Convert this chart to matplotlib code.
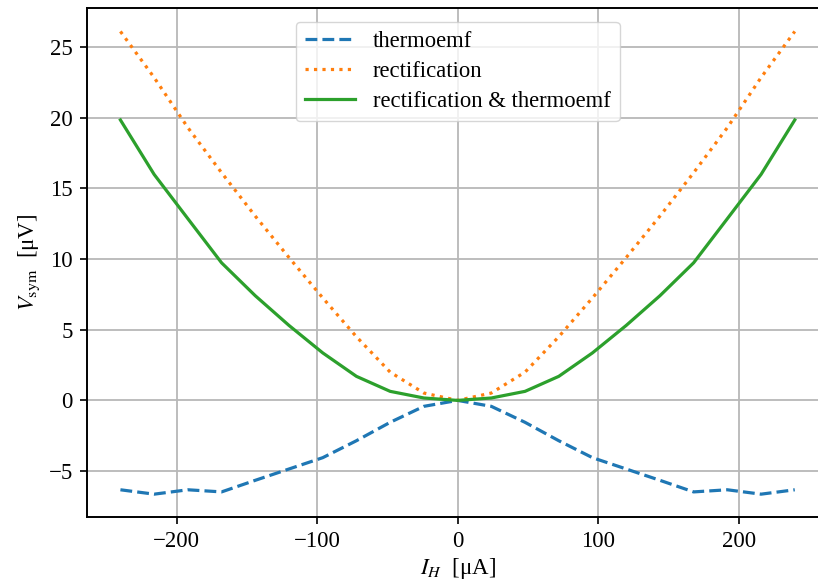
import matplotlib
matplotlib.use("Agg")
import matplotlib.pyplot as plt

plt.rcParams['font.family'] = ['Liberation Serif', 'DejaVu Serif']
plt.rcParams['mathtext.fontset'] = 'stix'

current = [-240, -216, -192, -168, -144, -120, -96, -72, -48, -24, 0,
           24, 48, 72, 96, 120, 144, 168, 192, 216, 240]
thermoemf = [-6.32, -6.63, -6.32, -6.47, -5.65, -4.85, -4.05, -2.85, -1.55, -0.42, 0.0,
             -0.42, -1.55, -2.85, -4.05, -4.85, -5.65, -6.47, -6.32, -6.63, -6.32]
rectification = [26.09, 22.83, 19.29, 16.1, 13.03, 10.1, 7.25, 4.5, 2.0, 0.52, 0.0,
                 0.52, 2.0, 4.5, 7.25, 10.1, 13.03, 16.1, 19.29, 22.83, 26.09]
combined = [19.83, 15.98, 12.85, 9.73, 7.4, 5.3, 3.36, 1.7, 0.64, 0.17, 0.0,
            0.17, 0.64, 1.7, 3.36, 5.3, 7.4, 9.73, 12.85, 15.98, 19.83]

fig = plt.figure(figsize=(8.18, 5.86), dpi=100)
ax = fig.add_axes([86.7 / 818, (586 - 517.3) / 586, (828.5 - 86.7) / 818, (517.3 - 8.3) / 586])

lw = 2.3
ax.plot(current, thermoemf, '--', color='#1f77b4', lw=lw, label='thermoemf')
ax.plot(current, rectification, ':', color='#ff7f0e', lw=lw, label='rectification')
ax.plot(current, combined, '-', color='#2ca02c', lw=lw, label='rectification & thermoemf')

ax.grid(True, color='#b8b8b8', lw=1.3)
ax.set_axisbelow(True)
ax.set_xticks([-200, -100, 0, 100, 200])
ax.set_yticks([-5, 0, 5, 10, 15, 20, 25])
ax.tick_params(labelsize=16.5, length=5, width=1.2, pad=5)
for s in ax.spines.values():
    s.set_linewidth(1.4)

ax.set_xlabel(r'$I_H$  [μA]', fontsize=16.5, labelpad=3)
ax.set_ylabel(r'$V_\mathrm{sym}$  [μV]', fontsize=16.5, labelpad=5)
ax.legend(loc='upper center', fontsize=16.3, handlelength=2.2, borderaxespad=0.6,
          labelspacing=0.4)

fig.savefig('out.png', dpi=100)
